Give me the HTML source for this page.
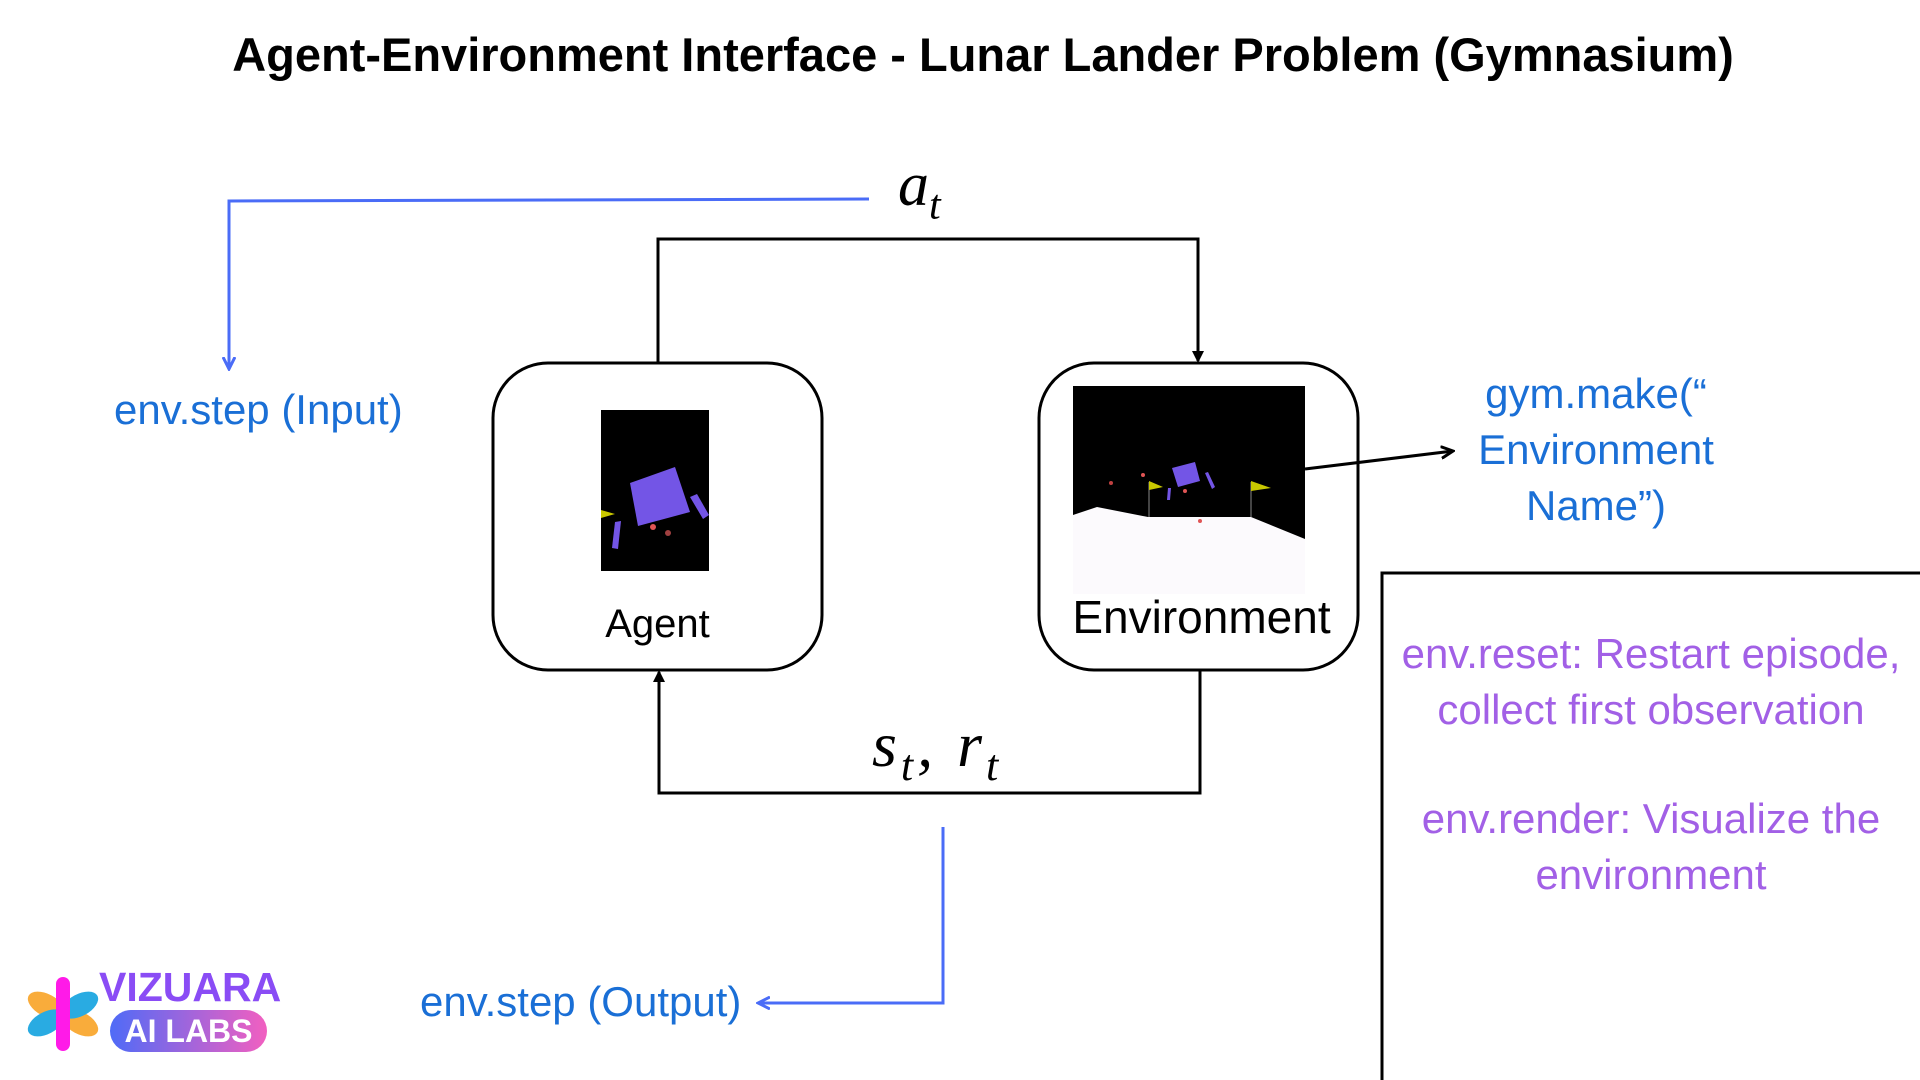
<!DOCTYPE html>
<html><head><meta charset="utf-8"><style>
body{margin:0;width:1920px;height:1080px;background:#fff;position:relative;overflow:hidden;font-family:"Liberation Sans","DejaVu Sans",sans-serif}
.t{position:absolute;white-space:nowrap}
.blue{color:#1a6fd6;font-size:42px}
.pur{color:#a260e6;font-size:42px;text-align:center;width:540px;left:1381px}
.m{font-family:'Liberation Serif',serif;font-style:italic}
</style></head><body>
<div class="t" style="left:0;width:1966px;text-align:center;top:27px;font-size:47px;font-weight:bold">Agent-Environment Interface - Lunar Lander Problem (Gymnasium)</div>

<svg width="1920" height="1080" style="position:absolute;left:0;top:0">
<defs>
<marker id="ab" markerWidth="12" markerHeight="12" refX="10" refY="6" orient="auto" markerUnits="userSpaceOnUse"><path d="M0,0 L12,6 L0,12 Z" fill="#000"/></marker>
<marker id="ab2" markerWidth="14" markerHeight="14" refX="12" refY="7" orient="auto" markerUnits="userSpaceOnUse"><path d="M0,1 L12,7 L0,13" fill="none" stroke="#4a6cf7" stroke-width="3"/></marker>
<marker id="ab3" markerWidth="14" markerHeight="14" refX="12" refY="7" orient="auto" markerUnits="userSpaceOnUse"><path d="M0,1 L12,7 L0,13" fill="none" stroke="#000" stroke-width="3"/></marker>
</defs>
<rect x="493" y="363" width="329" height="307" rx="55" fill="#fff" stroke="#000" stroke-width="3"/>
<rect x="1039" y="363" width="319" height="307" rx="55" fill="#fff" stroke="#000" stroke-width="3"/>
<rect x="601" y="410" width="108" height="161" fill="#000"/>
<polygon points="630,483 675,467 690,512 638,526" fill="#7355e6"/>
<polygon points="690,497 697,494 709,515 703,519" fill="#7355e6"/>
<polygon points="615,522 621,521 618,549 612,548" fill="#7355e6"/>
<polygon points="601,510 615,514 601,518" fill="#c9c800"/>
<circle cx="653" cy="527" r="3" fill="#e05555"/><circle cx="668" cy="533" r="3" fill="#a04040"/>
<rect x="1073" y="386" width="232" height="208" fill="#fcfafd"/>
<path d="M1073,386 H1305 V539 L1251,517 H1148 L1097,507 L1073,515 Z" fill="#000"/>
<polygon points="1172,468 1195,462 1200,481 1178,487" fill="#7355e6"/>
<polygon points="1205,473 1208,472 1215,487 1212,489" fill="#7355e6"/>
<polygon points="1168,488 1171,488 1170,500 1167,500" fill="#7355e6"/>
<line x1="1149" y1="482" x2="1149" y2="517" stroke="#888"/><polygon points="1149,481 1163,487 1149,490" fill="#c9c800"/>
<line x1="1251" y1="482" x2="1251" y2="517" stroke="#888"/><polygon points="1251,481 1271,488 1251,491" fill="#c9c800"/>
<circle cx="1143" cy="475" r="2" fill="#e05555"/><circle cx="1111" cy="483" r="2" fill="#c04040"/><circle cx="1185" cy="491" r="2" fill="#e05555"/><circle cx="1200" cy="521" r="2" fill="#e05555"/>
<polyline points="658,362 658,239 1198,239 1198,361" fill="none" stroke="#000" stroke-width="3" marker-end="url(#ab)"/>
<polyline points="1200,670 1200,793 659,793 659,672" fill="none" stroke="#000" stroke-width="3" marker-end="url(#ab)"/>
<line x1="1305" y1="469" x2="1453" y2="451" stroke="#000" stroke-width="3" marker-end="url(#ab3)"/>
<polyline points="869,199 229,201 229,369" fill="none" stroke="#4a6cf7" stroke-width="3" marker-end="url(#ab2)"/>
<polyline points="943,827 943,1003 758,1003" fill="none" stroke="#4a6cf7" stroke-width="3" marker-end="url(#ab2)"/>
<rect x="1382" y="573" width="545" height="515" fill="none" stroke="#000" stroke-width="3"/>
<g transform="translate(63,1014)">
<g transform="rotate(28)"><ellipse cx="-19" cy="0" rx="20" ry="11" fill="#f9ac3b"/><ellipse cx="19" cy="0" rx="20" ry="11" fill="#f9ac3b"/></g>
<g transform="rotate(-28)"><ellipse cx="-19" cy="0" rx="20" ry="11" fill="#29abe2"/><ellipse cx="19" cy="0" rx="20" ry="11" fill="#29abe2"/></g>
<rect x="-7" y="-37" width="14" height="74" rx="7" fill="#ff1ae8"/>
</g>
<defs><linearGradient id="g" x1="0" x2="1"><stop offset="0" stop-color="#4f6bf7"/><stop offset="1" stop-color="#f25fc0"/></linearGradient></defs>
<rect x="110" y="1010" width="157" height="42" rx="21" fill="url(#g)"/>
</svg>

<div class="t m" style="left:898px;top:150px;font-size:62px">a<sub style="font-size:42px">t</sub></div>
<div class="t m" style="left:872px;top:708px;font-size:64px;letter-spacing:4px">s<sub style="font-size:44px">t</sub>, r<sub style="font-size:44px">t</sub></div>
<div class="t" style="left:493px;width:329px;text-align:center;top:602px;font-size:40px">Agent</div>
<div class="t" style="left:1039px;width:325px;text-align:center;top:590px;font-size:46px">Environment</div>
<div class="t blue" style="left:114px;top:386px">env.step (Input)</div>
<div class="t blue" style="left:420px;top:978px">env.step (Output)</div>
<div class="t blue" style="left:1446px;width:300px;text-align:center;top:366px;line-height:56px">gym.make(“<br>Environment<br>Name”)</div>
<div class="t pur" style="top:626px;line-height:56px">env.reset: Restart episode,<br>collect first observation</div>
<div class="t pur" style="top:791px;line-height:56px">env.render: Visualize the<br>environment</div>
<div class="t" style="left:99px;top:964px;font-size:41px;font-weight:bold;color:#8a4cf5">VIZUARA</div>
<div class="t" style="left:110px;width:157px;text-align:center;top:1013px;font-size:32px;font-weight:bold;color:#fff">AI LABS</div>
</body></html>
